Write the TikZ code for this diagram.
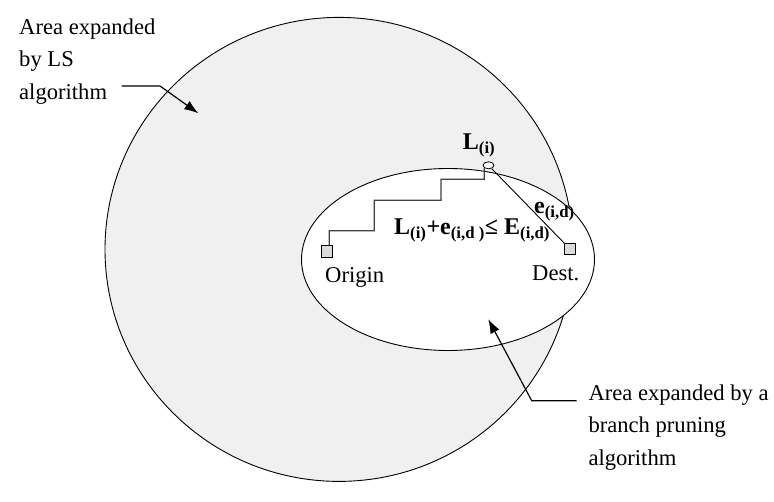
\documentclass[tikz,border=0pt]{standalone}
\usepackage{fontspec}
\setmainfont{Liberation Serif}
\usetikzlibrary{shapes.geometric}
\usetikzlibrary{arrows.meta}
\definecolor{lsgray}{rgb}{0.94, 0.94, 0.94}
\definecolor{boxgray}{rgb}{0.86, 0.86, 0.86}
\definecolor{stairgray}{rgb}{0.25, 0.25, 0.25}

\begin{document}
\begin{tikzpicture}[x=1pt,y=-1pt,
        txt/.style={font=\fontsize{22.6}{32.3}\selectfont, inner sep=0pt, align=left},
        mathlbl/.style={font=\fontsize{24}{28}\selectfont\bfseries, inner sep=0pt},
        endbox/.style={draw, fill=boxgray, minimum size=11.5pt, inner sep=0pt, line width=0.8pt},
        pointer/.style={line width=1.2pt, -{Latex[length=14pt,width=10pt]}},
    ]
        \useasboundingbox (0,0) rectangle (774,502);
        \draw[fill=lsgray, line width=0.9pt] (339,249.4) ellipse [x radius=234, y radius=232];
        \draw[fill=white, line width=0.9pt] (448,259.5) ellipse [x radius=146.5, y radius=91];
        \node[endbox] (origin) at (326.7,251.3) {};
        \node[endbox, minimum size=11pt] (dest) at (570.2,249.3) {};
        \node[draw, ellipse, fill=white, minimum width=11pt, minimum height=7pt, inner sep=0pt, line width=0.8pt] (li) at (488.5,165.3) {};
        \draw[stairgray, line width=1.3pt] ([xshift=2.5pt]origin.north) |- (374.3,230.7) |- (441,200.3) |- (484.3,179.3) -- (li.south west);
        \draw[line width=0.9pt] (li) -- (dest);
        \node[mathlbl, anchor=base west] (lilbl) at (462.7,150) {L\textsubscript{(i)}};
        \node[mathlbl, anchor=base west] (elbl) at (534,214) {e\textsubscript{(i,d)}};
        \node[mathlbl, anchor=base west] (bound) at (394,234.3) {L\textsubscript{(i)}+e\textsubscript{(i,d )}≤ E\textsubscript{(i,d)}};
        \node[txt, anchor=base west] (originlbl) at (325,283) {Origin};
        \node[txt, anchor=base west] (destlbl) at (532,281) {Dest.};
        \node[txt, anchor=north west] (lstext) at (19,18.6) {Area expanded\\by LS\\algorithm};
        \node[txt, anchor=north west] (bptext) at (588.3,384.6) {Area expanded by a\\branch pruning\\algorithm};
        \coordinate (lsfrom) at (121.7,86);
        \coordinate (lsbend) at (160,86);
        \coordinate (lstip) at (198.3,113.3);
        \coordinate (bpfrom) at (576.7,400.7);
        \coordinate (bpbend) at (531.7,400.7);
        \coordinate (bptip) at (488.3,319.3);
        \draw[pointer] (lsfrom) -- (lsbend) -- (lstip);
        \draw[pointer] (bpfrom) -- (bpbend) -- (bptip);
    \end{tikzpicture}
\end{document}
